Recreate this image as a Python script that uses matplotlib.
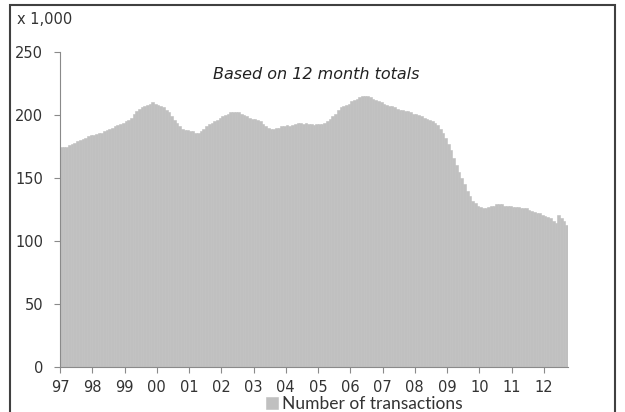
import numpy as np
import matplotlib
matplotlib.use("Agg")
from matplotlib import pyplot as plt
from matplotlib.patches import Rectangle

# monthly 12-month totals (x 1,000), Jan 1997 - Sep 2012
y1997 = [175, 175, 175, 176, 177, 178, 179, 180, 181, 182, 183, 184]
y1998 = [184, 185, 186, 186, 187, 188, 189, 190, 191, 192, 193, 194]
y1999 = [195, 196, 198, 201, 203, 205, 206, 207, 208, 209, 210, 209]
y2000 = [208, 207, 206, 204, 202, 199, 196, 194, 191, 189, 188, 188]
y2001 = [187, 187, 186, 186, 187, 189, 191, 193, 194, 195, 196, 198]
y2002 = [199, 200, 201, 202, 202, 202, 202, 201, 200, 199, 198, 197]
y2003 = [197, 196, 195, 193, 191, 190, 189, 189, 190, 190, 191, 191]
y2004 = [192, 191, 192, 193, 194, 194, 193, 194, 193, 193, 192, 193]
y2005 = [193, 193, 194, 195, 197, 199, 201, 204, 206, 207, 208, 209]
y2006 = [211, 212, 213, 214, 215, 215, 215, 214, 213, 212, 211, 210]
y2007 = [209, 208, 207, 207, 206, 205, 204, 204, 203, 203, 202, 201]
y2008 = [201, 200, 199, 198, 197, 196, 195, 194, 192, 189, 186, 182]
y2009 = [177, 172, 166, 160, 155, 150, 145, 140, 136, 132, 130, 128]
y2010 = [127, 126, 126, 127, 128, 128, 129, 129, 129, 128, 128, 128]
y2011 = [127, 127, 127, 126, 126, 126, 125, 124, 123, 122, 122, 121]
y2012 = [120, 119, 118, 116, 114, 121, 118, 116, 113]

year_labels = ["97", "98", "99", "00", "01", "02", "03", "04",
               "05", "06", "07", "08", "09", "10", "11", "12"]

transactions = (y1997 + y1998 + y1999 + y2000 + y2001 + y2002 + y2003 + y2004
                + y2005 + y2006 + y2007 + y2008 + y2009 + y2010 + y2011 + y2012)

W, H = 625, 412
fig = plt.figure(figsize=(W / 100, H / 100), dpi=100)
fig.patch.set_facecolor("white")

# chart area border
fig.patches.append(Rectangle((10 / W, -0.05), 605 / W, 1.05 - 5 / H,
                             transform=fig.transFigure, fill=False,
                             edgecolor="#404040", linewidth=1.5))

ax = fig.add_axes([60 / W, (H - 367) / H, (568 - 60) / W, (367 - 52) / H])
x = np.arange(len(transactions))
ax.bar(x + 0.5, transactions, width=1.0, color="#c0c0c0",
       edgecolor="#c0c0c0", linewidth=0.4, label="Number of transactions")

ax.set_xlim(0, len(transactions))
ax.set_ylim(0, 250)
ax.set_yticks(range(0, 251, 50))
ax.set_xticks(np.arange(len(year_labels)) * 12)
ax.set_xticklabels(year_labels)

for side in ["top", "right"]:
    ax.spines[side].set_visible(False)
for side in ["left", "bottom"]:
    ax.spines[side].set_color("#8a8a8a")
    ax.spines[side].set_linewidth(0.8)
ax.tick_params(axis="both", direction="out", length=4, width=0.8,
               color="#8a8a8a", labelsize=10.5, labelcolor="#333333")
ax.tick_params(axis="y", pad=8)
ax.tick_params(axis="x", pad=5)

fig.text(17 / W, 1 - 20 / H, "x 1,000", fontsize=10.5, color="#333333",
         va="center", ha="left")
ax.text(316 / W * W / 508 - 60 / 508, 0.93, "Based on 12 month totals",
        transform=ax.transAxes, fontsize=11.5, style="italic",
        color="#222222", ha="center", va="center")

fig.legend(loc="center", bbox_to_anchor=(364 / W, 1 - 404 / H), frameon=False,
           prop={"family": "Lato", "size": 12.5}, handlelength=0.7,
           handleheight=0.7, handletextpad=0.2, labelcolor="#333333")

fig.savefig("out.png", dpi=100, facecolor="white")
